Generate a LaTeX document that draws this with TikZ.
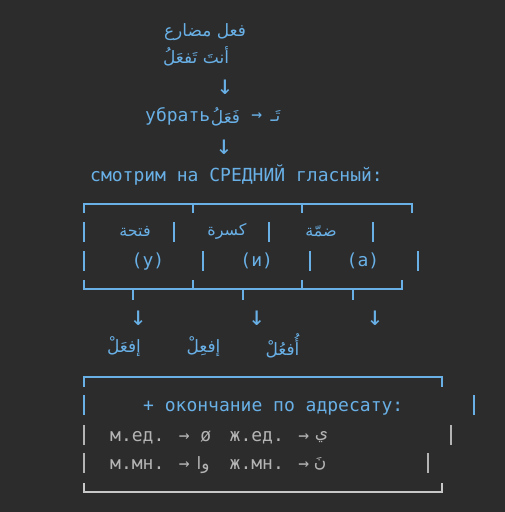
\documentclass[tikz,border=0pt]{standalone}
\usepackage{fontspec}
\newfontfamily\arabicfont[Script=Arabic]{DejaVu Sans}
\newfontfamily\monofont{DejaVu Sans Mono}
\TeXXeTstate=1
\definecolor{bg}{HTML}{2D2C2C}
\definecolor{blu}{HTML}{68B0E6}
\definecolor{gry}{HTML}{B4B4B4}
\definecolor{wht}{HTML}{C8C8C8}
\tikzset{
  mono/.style={font=\monofont\fontsize{18}{20}\selectfont, inner sep=0pt, text=blu},
  downarrow/.style={font=\monofont\fontsize{27}{29}\selectfont, inner sep=0pt, text=blu},
  ar/.style={font=\arabicfont\fontsize{17}{19}\selectfont, inner sep=0pt, text=blu},
  arsmall/.style={font=\arabicfont\fontsize{16}{18}\selectfont, inner sep=0pt, text=blu},
  boxline/.style={line width=1.8pt, draw=blu},
  greyline/.style={line width=1.8pt, draw=gry},
  whtline/.style={line width=1.8pt, draw=wht},
}
\begin{document}
\begin{tikzpicture}[x=1pt,y=-1pt]
\fill[bg] (0,0) rectangle (505,512);
\useasboundingbox (0,0) rectangle (505,512);
% top
\node[ar] (t1) at (205,32) {\beginR فعل مضارع\endR};
\node[ar] (t2) at (196,56.5) {\beginR أنتَ تَفعَلُ\endR};
\node[downarrow] (a1) at (225,87) {↓};
\node[mono, anchor=base west] (ub) at (145,121.5) {убрать};
\node[ar] (f1) at (225.5,117) {\beginR فَعَلُ\endR};
\node[mono] (arr1) at (256.7,117) {→};
\node[ar] (ta) at (275.5,116) {\beginR تَـ\endR};
\node[downarrow] (a2) at (224,147) {↓};
\node[mono, anchor=base west] (sm) at (90,181) {смотрим на СРЕДНИЙ гласный:};
% table frame
\draw[boxline] (84,213) -- (84,204) -- (412,204) -- (412,213);
\draw[boxline] (193,204) -- (193,213);
\draw[boxline] (302,204) -- (302,213);
\foreach \x in {84,174,269,373} \draw[boxline] (\x,222) -- (\x,242);
\foreach \x in {84,202.7,310,418} \draw[boxline] (\x,251) -- (\x,271);
\draw[boxline] (84,280) -- (84,289) -- (402,289) -- (402,280);
\draw[boxline] (193,289) -- (193,280);
\draw[boxline] (302,289) -- (302,280);
\foreach \x in {133.3,242.7,352.7} \draw[boxline] (\x,289) -- (\x,300);
% table texts
\node[arsmall] (h1) at (135,231.5) {\beginR فتحة\endR};
\node[arsmall] (h2) at (227,231.5) {\beginR كسرة\endR};
\node[arsmall] (h3) at (321,231.5) {\beginR ضمّة\endR};
\node[mono, anchor=base] (v1) at (148,266.5) {(у)};
\node[mono, anchor=base] (v2) at (256.7,266.5) {(и)};
\node[mono, anchor=base] (v3) at (363,266.5) {(а)};
% arrows and results
\node[downarrow] (d1) at (138.3,318.5) {↓};
\node[downarrow] (d2) at (256.7,318.5) {↓};
\node[downarrow] (d3) at (375,318.5) {↓};
\node[ar] (r1) at (124,347) {\beginR إفعَلْ\endR};
\node[ar] (r2) at (203.5,347) {\beginR إفعِلْ\endR};
\node[ar] (r3) at (282.5,346) {\beginR أُفعُلْ\endR};
% endings box
\draw[boxline] (84,387) -- (84,377.3) -- (442.3,377.3) -- (442.3,387);
\draw[boxline] (84,395) -- (84,415);
\draw[boxline] (474.3,395) -- (474.3,415);
\draw[greyline] (84,425) -- (84,445);
\draw[greyline] (451,425) -- (451,445);
\draw[greyline] (84,453.3) -- (84,473.3);
\draw[greyline] (428.3,453.3) -- (428.3,473.3);
\draw[whtline] (84,483) -- (84,491.7) -- (442.3,491.7) -- (442.3,483);
\node[mono, anchor=base west] (plus) at (143,411.7) {+ окончание по адресату:};
\node[mono, anchor=base west, text=gry] (e1) at (110,441.5) {м.ед. → ø};
\node[mono, anchor=base west, text=gry] (e2) at (229.5,441.5) {ж.ед. →};
\node[ar, text=gry] (e3) at (321.5,437) {\beginR ي\endR};
\node[mono, anchor=base west, text=gry] (e4) at (110,469.5) {м.мн. →};
\node[ar, text=gry] (e5) at (203,465) {\beginR وا\endR};
\node[mono, anchor=base west, text=gry] (e6) at (229.5,469.5) {ж.мн. →};
\node[ar, text=gry] (e7) at (320,464) {\beginR نَ\endR};
\end{tikzpicture}
\end{document}
